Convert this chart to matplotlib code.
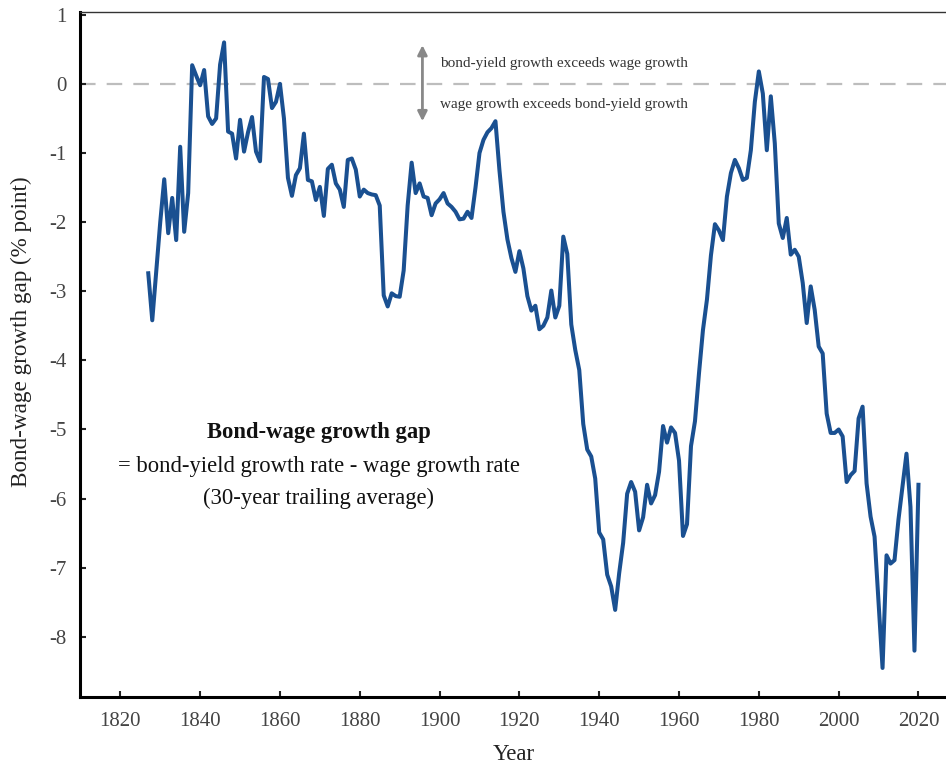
import numpy as np
import matplotlib
matplotlib.use('Agg')
import matplotlib.pyplot as plt

# annual values, 1827-2020
years = list(range(1827, 2021))
gap = [
    -2.74, -3.42, -2.70, -2.00, -1.38, -2.16, -1.65, -2.26, -0.91, -2.14,   # 1827-1836
    -1.58, 0.27, 0.12, -0.02, 0.20, -0.47, -0.58, -0.50, 0.28, 0.60,        # 1837-1846
    -0.69, -0.72, -1.08, -0.52, -0.98, -0.70, -0.48, -0.98, -1.12, 0.10,    # 1847-1856
    0.07, -0.35, -0.26, 0.00, -0.50, -1.36, -1.62, -1.32, -1.22, -0.72,     # 1857-1866
    -1.39, -1.41, -1.68, -1.49, -1.91, -1.23, -1.17, -1.44, -1.53, -1.78,   # 1867-1876
    -1.10, -1.08, -1.24, -1.63, -1.53, -1.58, -1.60, -1.61, -1.76, -3.06,   # 1877-1886
    -3.22, -3.03, -3.07, -3.08, -2.70, -1.76, -1.14, -1.58, -1.44, -1.63,   # 1887-1896
    -1.65, -1.90, -1.73, -1.67, -1.58, -1.73, -1.78, -1.85, -1.96, -1.95,   # 1897-1906
    -1.85, -1.94, -1.50, -1.00, -0.81, -0.70, -0.64, -0.54, -1.25, -1.85,   # 1907-1916
    -2.25, -2.52, -2.72, -2.42, -2.67, -3.07, -3.28, -3.21, -3.55, -3.50,   # 1917-1926
    -3.38, -2.99, -3.38, -3.21, -2.21, -2.46, -3.48, -3.85, -4.14, -4.92,   # 1927-1936
    -5.29, -5.39, -5.71, -6.49, -6.59, -7.10, -7.27, -7.61, -7.08, -6.64,   # 1937-1946
    -5.93, -5.76, -5.90, -6.46, -6.27, -5.80, -6.07, -5.95, -5.61, -4.95,   # 1947-1956
    -5.19, -4.97, -5.05, -5.45, -6.54, -6.37, -5.24, -4.88, -4.19, -3.56,   # 1957-1966
    -3.12, -2.48, -2.03, -2.12, -2.26, -1.63, -1.29, -1.10, -1.22, -1.39,   # 1967-1976
    -1.36, -0.96, -0.26, 0.18, -0.14, -0.96, -0.18, -0.86, -2.02, -2.23,    # 1977-1986
    -1.94, -2.47, -2.40, -2.50, -2.88, -3.46, -2.93, -3.27, -3.80, -3.90,   # 1987-1996
    -4.77, -5.05, -5.05, -5.00, -5.10, -5.76, -5.66, -5.60, -4.84, -4.67,   # 1997-2006
    -5.78, -6.26, -6.55, -7.50, -8.45, -6.82, -6.94, -6.89, -6.30, -5.83,   # 2007-2016
    -5.35, -6.12, -8.20, -5.80,                                             # 2017-2020
]

x_ticks = [1820, 1840, 1860, 1880, 1900, 1920, 1940, 1960, 1980, 2000, 2020]
y_ticks = [1, 0, -1, -2, -3, -4, -5, -6, -7, -8]


def main():
    plt.rcParams['font.family'] = ['Liberation Serif', 'DejaVu Serif']

    fig = plt.figure(figsize=(9.46, 7.63), dpi=100)
    ax = fig.add_axes([0.0846, 0.0865, 0.9175, 0.8978])

    ax.axhline(0, color='#bdbdbd', linewidth=1.6, dashes=(7, 5), zorder=1)
    ax.plot(years, gap, color='#1a5091', linewidth=2.9, zorder=3)

    ax.set_xlim(1809.9, 2027.4)
    ax.set_ylim(-8.87, 1.04)
    ax.set_xticks(x_ticks)
    ax.set_yticks(y_ticks)
    ax.set_yticklabels(['%d' % t if t >= 0 else '-%d' % -t for t in y_ticks])
    ax.tick_params(direction='in', length=4, width=1.5, labelsize=15,
                   colors='#222222')
    ax.tick_params(axis='x', pad=11)
    ax.tick_params(axis='y', pad=10)
    for t in ax.get_xticklabels() + ax.get_yticklabels():
        t.set_color('#444444')

    ax.spines['left'].set_linewidth(2.2)
    ax.spines['bottom'].set_linewidth(2.2)
    ax.spines['top'].set_linewidth(1.0)
    ax.spines['top'].set_color('#333333')
    ax.spines['right'].set_visible(False)

    ax.set_xlabel('Year', fontsize=16.5, color='#222222', labelpad=9)
    ax.set_ylabel('Bond-wage growth gap (% point)', fontsize=16.7, color='#222222')
    ax.yaxis.set_label_coords(-0.0556, 0.534)

    # explanation block
    ax.text(1869.7, -5.04, 'Bond-wage growth gap', fontsize=16.3, fontweight='bold',
            ha='center', va='center', color='#111111')
    ax.text(1869.7, -5.53, '= bond-yield growth rate - wage growth rate', fontsize=16.3,
            ha='center', va='center', color='#111111')
    ax.text(1869.7, -6.0, '(30-year trailing average)', fontsize=16.3,
            ha='center', va='center', color='#111111')

    # direction arrow near zero line
    ax.annotate('', xy=(1895.7, 0.56), xytext=(1895.7, -0.54),
                arrowprops=dict(arrowstyle='<|-|>', color='#888888', lw=2,
                                mutation_scale=14, shrinkA=0, shrinkB=0))
    ax.text(1900.0, 0.30, 'bond-yield growth exceeds wage growth', fontsize=11,
            ha='left', va='center', color='#333333')
    ax.text(1900.0, -0.30, 'wage growth exceeds bond-yield growth', fontsize=11,
            ha='left', va='center', color='#333333')

    fig.savefig('out.png', dpi=100)


if __name__ == "__main__":
    main()
